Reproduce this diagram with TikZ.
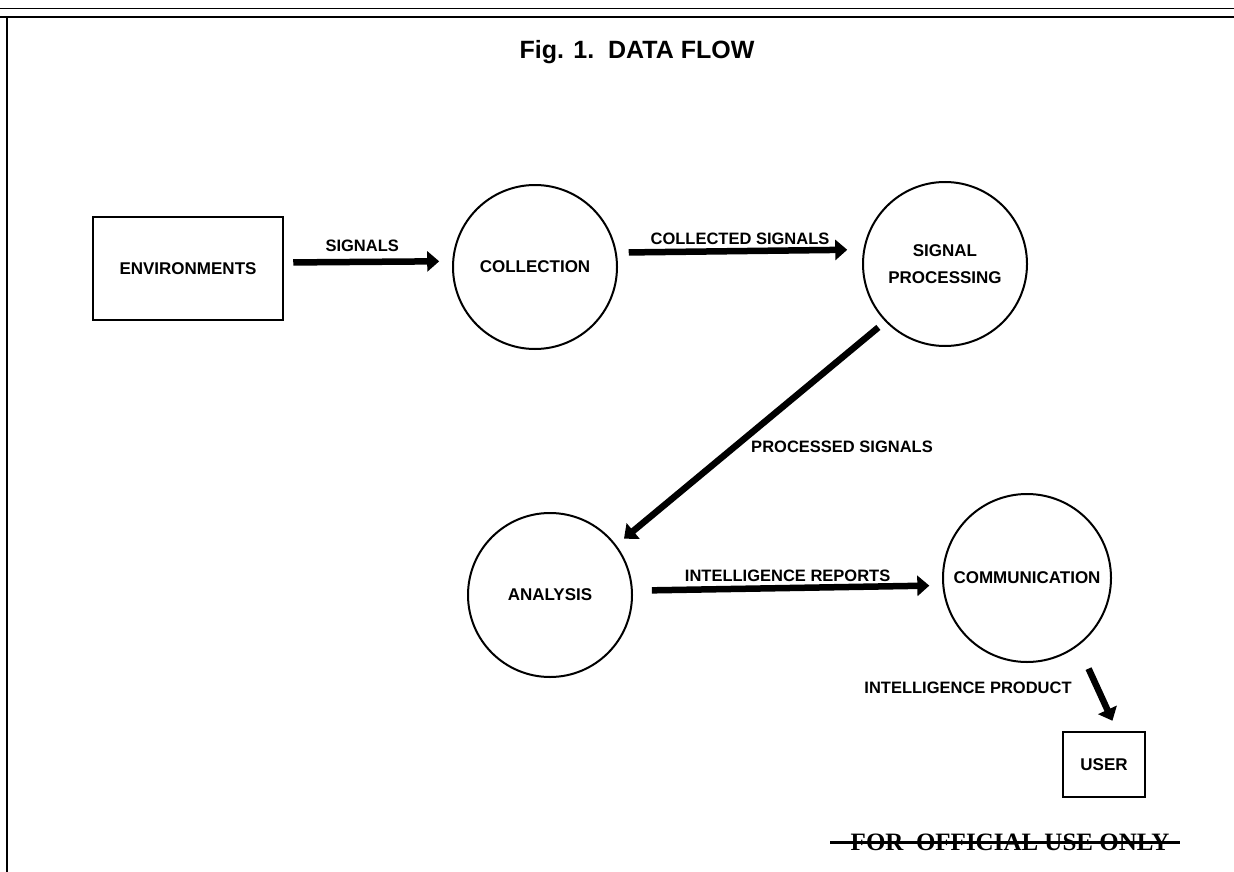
\documentclass[tikz,border=0pt]{standalone}
\usepackage{fontspec}
\setmainfont{Liberation Sans}
\newfontfamily\stampfont{Liberation Serif}
\usepackage{tikz}
\usetikzlibrary{arrows.meta}

\begin{document}
\begin{tikzpicture}[x=1pt,y=-1pt,>={Triangle[length=12pt,width=20pt]},semithick]

		\tikzstyle{proc}=[circle,draw=black,line width=2pt,minimum size=164pt,inner sep=0pt,align=center,font=\fontsize{17}{27}\selectfont\bfseries]
		\tikzstyle{ext}=[rectangle,draw=black,line width=2.5pt,font=\fontsize{17}{20}\selectfont\bfseries]
		\tikzstyle{flow}=[->,line width=6.5pt]
		\tikzstyle{lbl}=[font=\fontsize{16.5}{20}\selectfont\bfseries]

		\useasboundingbox (0,0) rectangle (1234,872);

		% frame of the page
		\draw[line width=1pt] (0,9) -- (1234,9);
		\draw[line width=2pt] (0,17) -- (1234,17);
		\draw[line width=2pt] (7,17) -- (7,872);

		\node (title) at (637,52) {\fontsize{25}{30}\selectfont\bfseries Fig. 1.\ \ DATA FLOW};

		\node[ext,minimum width=190pt,minimum height=103pt] (env)  at (188,268.5) {ENVIRONMENTS};
		\node[proc]                                        (coll) at (535,267)   {COLLECTION};
		\node[proc]                                        (sp)   at (945,264)   {SIGNAL\\PROCESSING};
		\node[proc]                                        (ana)  at (550,595)   {ANALYSIS};
		\node[proc,minimum size=168pt]                     (comm) at (1027,578)  {COMMUNICATION};
		\node[ext,minimum width=82pt,minimum height=65pt]  (user) at (1104,764.5) {USER};

		\path 	([yshift=6pt]env.east) edge[flow,shorten <=9pt,shorten >=13pt] node[lbl,above,yshift=4pt,xshift=-6pt] {SIGNALS} (coll.176)
				(coll.10) edge[flow,shorten <=12pt,shorten >=16pt] node[lbl,above] {COLLECTED SIGNALS} (sp.170)
				(sp.224) edge[flow,shorten <=9pt,shorten >=10pt] node[lbl,pos=0.56,right=10pt] {PROCESSED SIGNALS} (ana.37.5)
				(ana.3) edge[flow,shorten <=19pt,shorten >=13pt] node[lbl,above] {INTELLIGENCE REPORTS} (comm.185)
				(comm.307) edge[flow,shorten <=25pt,shorten >=11pt] node[lbl,pos=0.49,left=19pt] {INTELLIGENCE PRODUCT} ([xshift=13pt]user.north);

		% struck-out marking
		\node[inner sep=0pt,font=\stampfont\fontsize{25}{30}\selectfont\bfseries] (fouo) at (1010,842) {FOR\ \ OFFICIAL USE ONLY};
		\draw[line width=3pt,shorten <=-20pt,shorten >=-10pt] (fouo.west) -- (fouo.east);

	\end{tikzpicture}
\end{document}
